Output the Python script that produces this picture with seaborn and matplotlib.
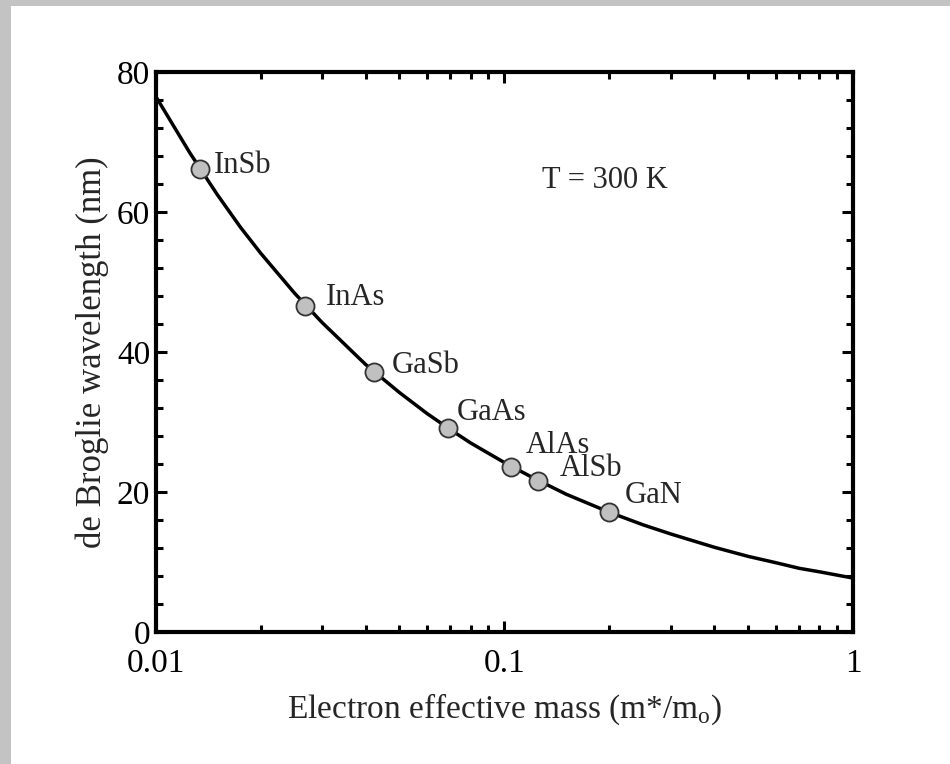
import matplotlib.pyplot as plt
import numpy as np
import pandas as pd
import seaborn as sns
from matplotlib.patches import Rectangle
from matplotlib.ticker import MultipleLocator, LogLocator, NullFormatter

# curve: effective mass vs wavelength (nm)
curve_mass = [0.01, 0.0125, 0.015, 0.0175, 0.02, 0.025, 0.03, 0.04, 0.05, 0.06, 0.07, 0.08,
              0.1, 0.12, 0.15, 0.2, 0.25, 0.3, 0.4, 0.5, 0.6, 0.7, 0.8, 1.0]
curve_lambda = [76.5, 68.5, 62.5, 57.8, 54.1, 48.4, 44.2, 38.2, 34.2, 31.2, 28.9, 27.0,
                24.2, 22.1, 19.7, 17.1, 15.3, 14.0, 12.1, 10.8, 9.9, 9.1, 8.6, 7.7]

# semiconductors marked on the curve
materials = ["InSb", "InAs", "GaSb", "GaAs", "AlAs", "AlSb", "GaN"]
mat_mass = [0.0134, 0.0267, 0.0422, 0.0687, 0.1046, 0.125, 0.2]
mat_lambda = [66.2, 46.6, 37.1, 29.1, 23.6, 21.6, 17.1]
# label placement: (left edge, baseline) relative to marker centre, in pixels
label_offsets = [(14, -4), (21, 1), (18, -1), (9, 8), (14, 14), (22, 5), (15, 9)]

xticks = [0.01, 0.1, 1]
xtick_labels = ["0.01", "0.1", "1"]
yticks = [0, 20, 40, 60, 80]

curve = pd.DataFrame({"mass": curve_mass, "lam": curve_lambda})
points = pd.DataFrame({"mass": mat_mass, "lam": mat_lambda, "name": materials})

sns.set_theme(style="ticks")
plt.rcParams["font.family"] = ["Liberation Serif", "DejaVu Serif"]
plt.rcParams["mathtext.fontset"] = "custom"
plt.rcParams["mathtext.rm"] = "Liberation Serif"

fig = plt.figure(figsize=(9.5, 7.64), dpi=100, facecolor="#c3c3c3")
fig.patches.append(Rectangle((11 / 950, 0), 1, 1 - 6 / 764, transform=fig.transFigure,
                             facecolor="white", edgecolor="none", zorder=-10))
ax = fig.add_axes([0.164, 0.1728, 0.734, 0.733])
ax.set_facecolor("white")

sns.lineplot(data=curve, x="mass", y="lam", color="black", linewidth=2.5, ax=ax)
sns.scatterplot(data=points, x="mass", y="lam", s=170, color="#c0c0c0",
                edgecolor="#333333", linewidth=1.3, zorder=5, ax=ax)

for name, m, l, (dx, dy) in zip(materials, mat_mass, mat_lambda, label_offsets):
    ax.annotate(name, (m, l), xytext=(dx, dy), textcoords="offset pixels",
                fontsize=22, ha="left", va="baseline")

ax.text(0.644, 0.807, "T = 300 K", transform=ax.transAxes, fontsize=22,
        ha="center", va="center")

ax.set_xscale("log")
ax.set_xlim(0.01, 1)
ax.set_ylim(0, 80)
ax.set_xticks(xticks, labels=xtick_labels)
ax.xaxis.set_minor_locator(LogLocator(base=10, subs=np.arange(2, 10)))
ax.xaxis.set_minor_formatter(NullFormatter())
ax.set_yticks(yticks)
ax.yaxis.set_minor_locator(MultipleLocator(4))

ax.tick_params(which="both", direction="in", top=True, right=True, width=2.2,
               colors="black", labelsize=24)
ax.tick_params(which="major", length=8)
ax.tick_params(which="minor", length=5)
ax.tick_params(axis="x", which="major", pad=12)
ax.tick_params(axis="y", which="major", pad=4)
for s in ax.spines.values():
    s.set_linewidth(3)
    s.set_color("black")

ax.set_xlabel(r"Electron effective mass (m*/m$_{\rm o}$)", fontsize=24, labelpad=9)
ax.set_ylabel("de Broglie wavelength (nm)", fontsize=25, labelpad=6)

fig.savefig("out.png", dpi=100, facecolor=fig.get_facecolor())
